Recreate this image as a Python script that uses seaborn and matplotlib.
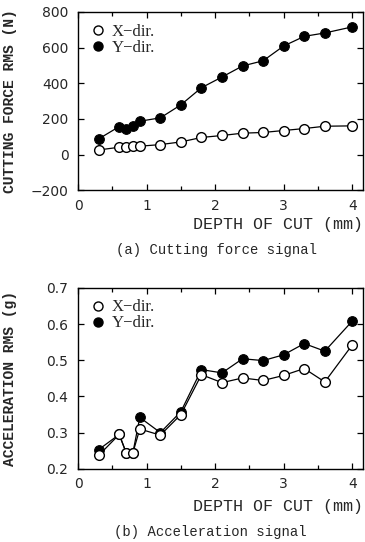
import matplotlib
matplotlib.use("Agg")
import matplotlib.pyplot as plt
from matplotlib.lines import Line2D
from matplotlib.ticker import MultipleLocator
import seaborn as sns
import pandas as pd

depth = [0.3, 0.6, 0.7, 0.8, 0.9, 1.2, 1.5, 1.8, 2.1, 2.4, 2.7, 3.0, 3.3, 3.6, 4.0]
force_x = [26, 41, 41, 47, 47, 56, 71, 96, 107, 120, 124, 135, 146, 159, 161]
force_y = [88, 157, 144, 163, 187, 206, 279, 375, 435, 497, 526, 609, 663, 682, 716]
acc_x = [0.237, 0.295, 0.245, 0.245, 0.310, 0.293, 0.350, 0.460, 0.438, 0.451, 0.444, 0.458, 0.477, 0.440, 0.542]
acc_y = [0.253, 0.295, 0.245, 0.245, 0.342, 0.300, 0.358, 0.474, 0.465, 0.504, 0.499, 0.515, 0.546, 0.525, 0.608]
legend_labels = ["X\u2212dir.", "Y\u2212dir."]

sns.set_style("ticks")
plt.rcParams["font.family"] = ["DejaVu Sans"]

fig = plt.figure(figsize=(3.65, 5.42), dpi=100)
ax1 = fig.add_axes([0.214, 0.649, 0.781, 0.329])
ax2 = fig.add_axes([0.214, 0.135, 0.781, 0.334])

mono = "Liberation Mono"
serif = "Liberation Serif"

def draw(ax, xs_vals, ys_vals, ylim, yticks, ylabel):
    df = pd.DataFrame({"d": depth, "x": xs_vals, "y": ys_vals})
    sns.lineplot(data=df, x="d", y="y", ax=ax, color="black", lw=0.9,
                 marker="o", markersize=7, markerfacecolor="black",
                 markeredgecolor="black", zorder=3)
    sns.lineplot(data=df, x="d", y="x", ax=ax, color="black", lw=0.9,
                 marker="o", markersize=7, markerfacecolor="white",
                 markeredgecolor="black", markeredgewidth=1.0, zorder=4)
    ax.set_xlim(0, 4.16)
    ax.set_ylim(*ylim)
    ax.set_yticks(yticks)
    ax.xaxis.set_major_locator(MultipleLocator(1))
    ax.xaxis.set_minor_locator(MultipleLocator(0.5))
    ax.tick_params(which="both", direction="in", top=True, right=True,
                   labelsize=10, width=0.9, color="black")
    ax.tick_params(which="major", length=4)
    ax.tick_params(which="minor", length=3)
    ax.tick_params(axis="y", pad=7)
    ax.tick_params(axis="x", pad=6)
    for s in ax.spines.values():
        s.set_linewidth(1.0)
        s.set_color("black")
    ax.set_xlabel("")
    ax.set_ylabel(ylabel, fontfamily=mono, fontsize=10.5, fontweight="bold")
    ax.yaxis.set_label_coords(-0.215, 0.5)
    handles = [
        Line2D([], [], ls="none", marker="o", markersize=6.5, markerfacecolor="white",
               markeredgecolor="black"),
        Line2D([], [], ls="none", marker="o", markersize=6.5, markerfacecolor="black",
               markeredgecolor="black"),
    ]
    ax.legend(handles, legend_labels, loc="upper left", frameon=False,
              prop={"family": serif, "size": 12}, handletextpad=0.3,
              labelspacing=0.0, borderaxespad=0.4, handlelength=1.0,
              borderpad=0.3)

draw(ax1, force_x, force_y, (-200, 800), [-200, 0, 200, 400, 600, 800],
     "CUTTING FORCE RMS (N)")
draw(ax2, acc_x, acc_y, (0.2, 0.7), [0.2, 0.3, 0.4, 0.5, 0.6, 0.7],
     "ACCELERATION RMS (g)")
ax2.set_yticklabels(["0.2", "0.3", "0.4", "0.5", "0.6", "0.7"])

fig.text(0.995, 1 - 224 / 542, "DEPTH OF CUT (mm)", ha="right", va="center",
         fontfamily=mono, fontsize=12)
fig.text(217 / 365, 1 - 250 / 542, "(a) Cutting force signal", ha="center", va="center",
         fontfamily=mono, fontsize=10)
fig.text(0.995, 1 - 507 / 542, "DEPTH OF CUT (mm)", ha="right", va="center",
         fontfamily=mono, fontsize=12)
fig.text(210 / 365, 1 - 532 / 542, "(b) Acceleration signal", ha="center", va="center",
         fontfamily=mono, fontsize=10)

fig.savefig("out.png", dpi=100)
